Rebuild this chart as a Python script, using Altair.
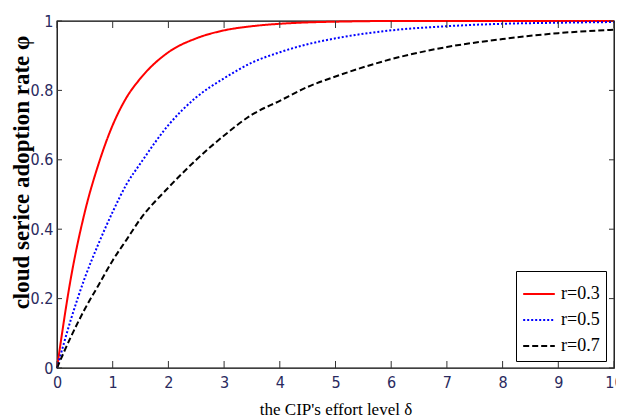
import altair as alt
import pandas as pd

# ---- data ----
delta = [0, 0.25, 0.5, 0.75, 1, 1.25, 1.5, 2, 2.5, 3, 3.5, 4, 4.5, 5, 6, 7, 8, 9, 10]
phi_r03 = [0, 0.26, 0.45, 0.59, 0.70, 0.78, 0.835, 0.91, 0.95, 0.973, 0.985, 0.992, 0.996, 0.998, 1.0, 1.0, 1.0, 1.0, 1.0]
phi_r05 = [0, 0.14, 0.26, 0.36, 0.45, 0.53, 0.59, 0.70, 0.78, 0.835, 0.88, 0.91, 0.933, 0.95, 0.973, 0.985, 0.992, 0.995, 0.997]
phi_r07 = [0, 0.09, 0.17, 0.24, 0.31, 0.37, 0.43, 0.52, 0.60, 0.67, 0.73, 0.77, 0.81, 0.84, 0.89, 0.925, 0.948, 0.965, 0.975]

series_labels = ["r=0.3", "r=0.5", "r=0.7"]
series_colors = ["#ff0000", "#0000ff", "#000000"]
series_dash = [[1, 0], [2, 2], [6, 3]]

x_ticks = [0, 1, 2, 3, 4, 5, 6, 7, 8, 9, 10]
y_ticks = [0, 0.2, 0.4, 0.6, 0.8, 1]

W, H = 557, 347

rows = []
for lab, vals in zip(series_labels, [phi_r03, phi_r05, phi_r07]):
    for d, p in zip(delta, vals):
        rows.append({"delta": d, "phi": p, "r": lab})
df = pd.DataFrame(rows)
xt = pd.DataFrame({"delta": x_ticks})
yt = pd.DataFrame({"phi": y_ticks})

xscale = alt.Scale(domain=[0, 10], nice=False)
yscale = alt.Scale(domain=[0, 1], nice=False)
label_font = "Liberation Sans Narrow, DejaVu Sans Condensed, Liberation Sans"
label_color = "#2a2a5e"

xaxis = alt.Axis(values=x_ticks, format="d", ticks=False, grid=False, domain=False,
                 labelFont=label_font, labelFontSize=16, labelColor=label_color,
                 labelPadding=6, labelFlush=False,
                 title="the CIP's effort level δ", titleFont="Liberation Serif",
                 titleFontSize=17, titleFontWeight="normal", titleColor="black",
                 titleY=46, titleBaseline="alphabetic")
yaxis = alt.Axis(values=y_ticks, format=".1~f", ticks=False, grid=False, domain=False,
                 labelFont=label_font, labelFontSize=16, labelColor=label_color,
                 labelPadding=4, labelFlush=False,
                 title="cloud serice adoption rate φ", titleFont="Liberation Serif",
                 titleFontSize=23, titleFontWeight="bold", titleColor="black",
                 titleX=-24, titleY=151, titleBaseline="bottom")

lines = alt.Chart(df).mark_line(strokeWidth=2, interpolate="monotone").encode(
    x=alt.X("delta:Q", scale=xscale, axis=xaxis),
    y=alt.Y("phi:Q", scale=yscale, axis=yaxis),
    color=alt.Color("r:N", scale=alt.Scale(domain=series_labels, range=series_colors),
                    legend=alt.Legend(title=None, orient="none", legendX=459, legendY=250,
                                      symbolType="stroke", symbolSize=1000, symbolStrokeWidth=2,
                                      labelFont="Liberation Serif", labelFontSize=18,
                                      labelColor="black", strokeColor="black", fillColor="white",
                                      padding=6, rowPadding=0, labelOffset=5, cornerRadius=0)),
    strokeDash=alt.StrokeDash("r:N", scale=alt.Scale(domain=series_labels, range=series_dash)),
)

tick_color = "#333333"
xb = alt.Chart(xt).mark_rule(color=tick_color, strokeWidth=1).encode(
    x=alt.X("delta:Q", scale=xscale), y=alt.value(H), y2=alt.value(H - 7))
xtop = alt.Chart(xt).mark_rule(color=tick_color, strokeWidth=1).encode(
    x=alt.X("delta:Q", scale=xscale), y=alt.value(0), y2=alt.value(7))
yl = alt.Chart(yt).mark_rule(color=tick_color, strokeWidth=1).encode(
    y=alt.Y("phi:Q", scale=yscale), x=alt.value(0), x2=alt.value(5))
yr = alt.Chart(yt).mark_rule(color=tick_color, strokeWidth=1).encode(
    y=alt.Y("phi:Q", scale=yscale), x=alt.value(W - 5), x2=alt.value(W))

chart = alt.layer(lines, xb, xtop, yl, yr).properties(
    width=W, height=H,
    autosize=alt.AutoSizeParams(type="none"),
    padding={"left": 49, "top": 13, "right": 2, "bottom": 49},
).configure_view(stroke="black", strokeWidth=1.3)

chart.save("out.html", embed_options={"renderer": "svg", "actions": False})
